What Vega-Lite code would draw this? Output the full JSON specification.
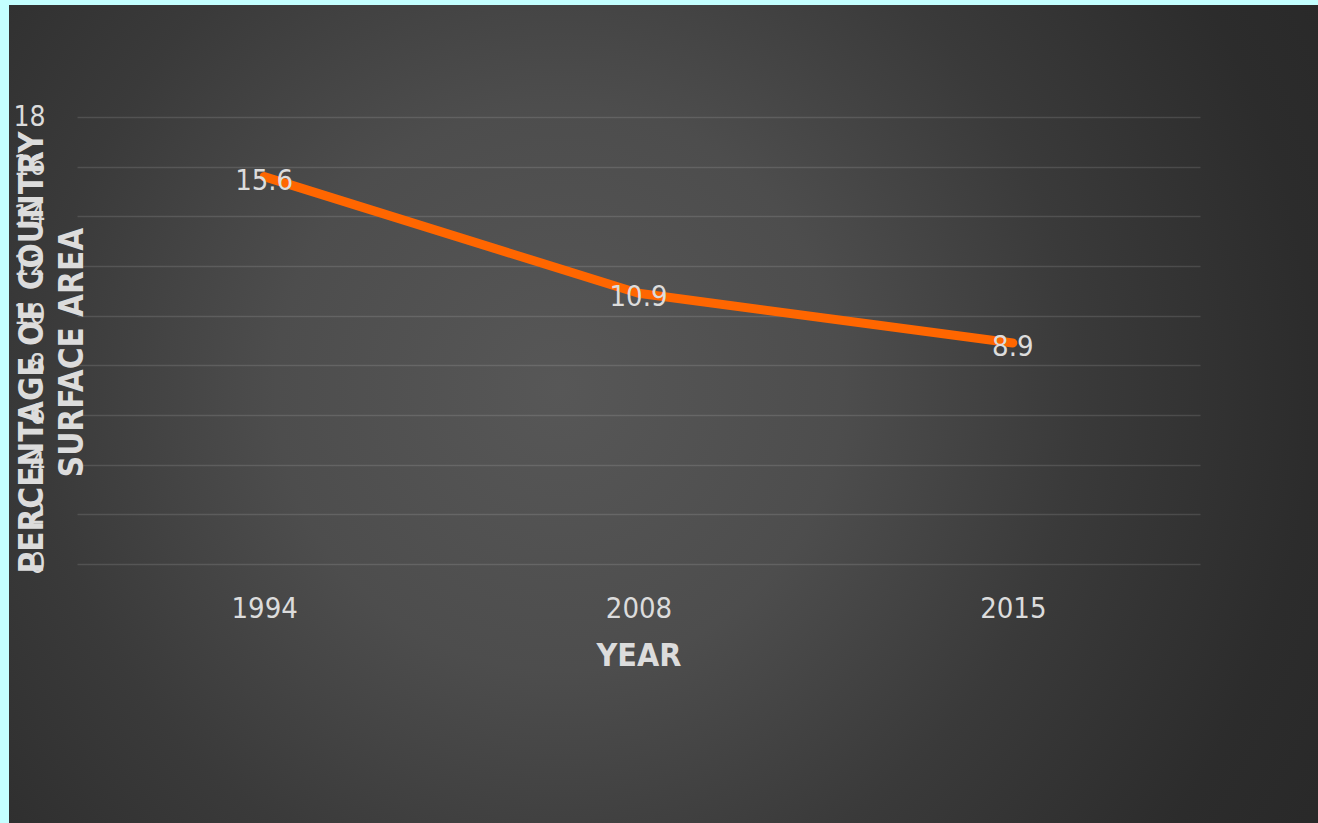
{
  "$schema": "https://vega.github.io/schema/vega-lite/v6.json",
  "width": 1309,
  "height": 818,
  "autosize": {"type": "none"},
  "padding": {"left": 9, "top": 5, "right": 0, "bottom": 0},
  "background": "#c4ffff",
  "view": {
    "stroke": null,
    "fill": {
      "gradient": "radial",
      "x1": 0.42, "y1": 0.48, "r1": 0,
      "x2": 0.42, "y2": 0.48, "r2": 0.72,
      "stops": [
        {"offset": 0, "color": "#575757"},
        {"offset": 0.3, "color": "#4d4d4d"},
        {"offset": 0.55, "color": "#3a3a3a"},
        {"offset": 0.8, "color": "#2c2c2c"},
        {"offset": 1, "color": "#272727"}
      ]
    }
  },
  "data": {
    "values": [
      {"year": "1994", "pct": 15.6},
      {"year": "2008", "pct": 10.9},
      {"year": "2015", "pct": 8.9}
    ]
  },
  "encoding": {
    "x": {
      "field": "year",
      "type": "ordinal",
      "scale": {"type": "point", "range": [68, 1191], "padding": 0.5},
      "axis": {
        "title": "YEAR",
        "orient": "bottom",
        "offset": -259,
        "domain": false,
        "ticks": false,
        "tickSize": 0,
        "grid": false,
        "labelAngle": 0,
        "labelFont": "DejaVu Sans Condensed",
        "labelFontSize": 29,
        "labelColor": "#dcdcdc",
        "labelPadding": 53,
        "labelBaseline": "alphabetic",
        "titleFont": "DejaVu Sans Condensed",
        "titleFontSize": 32,
        "titleFontWeight": "bold",
        "titleColor": "#dcdcdc",
        "titleY": 101,
        "titleBaseline": "alphabetic"
      }
    },
    "y": {
      "field": "pct",
      "type": "quantitative",
      "scale": {"domain": [0, 18], "range": [559, 112], "nice": false, "zero": true},
      "axis": {
        "title": ["PERCENTAGE OF  COUNTRY", "SURFACE AREA"],
        "offset": -68,
        "values": [0, 2, 4, 6, 8, 10, 12, 14, 16, 18],
        "domain": false,
        "ticks": false,
        "tickSize": 0,
        "grid": true,
        "gridColor": "#ffffff",
        "gridOpacity": 0.12,
        "gridWidth": 1.5,
        "labelFont": "DejaVu Sans Condensed",
        "labelFontSize": 28,
        "labelColor": "#dcdcdc",
        "labelPadding": 32,
        "titleFont": "DejaVu Sans Condensed",
        "titleFontSize": 33,
        "titleFontWeight": "bold",
        "titleColor": "#dcdcdc",
        "titleX": -44.5,
        "titleY": 347,
        "titleAngle": -90,
        "titleAlign": "center",
        "titleBaseline": "middle",
        "titleLineHeight": 40
      }
    }
  },
  "layer": [
    {
      "mark": {"type": "line", "color": "#ff6600", "strokeWidth": 9, "strokeCap": "round", "strokeJoin": "round"},
      "encoding": {}
    },
    {
      "mark": {"type": "text", "dy": 4, "fontSize": 29, "font": "DejaVu Sans Condensed", "color": "#dcdcdc", "baseline": "middle", "align": "center"},
      "encoding": {"text": {"field": "pct", "type": "quantitative", "format": ".1f"}}
    }
  ]
}
